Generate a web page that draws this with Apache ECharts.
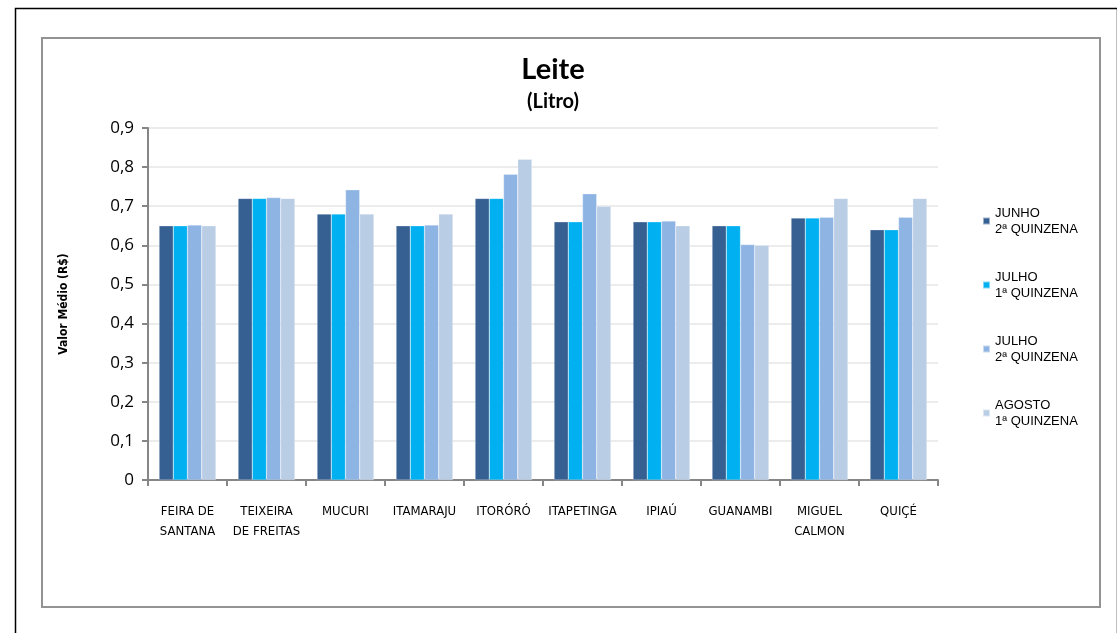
<!DOCTYPE html>
<html>
<head>
<meta charset="utf-8">
<script src="https://cdn.jsdelivr.net/npm/echarts@6/dist/echarts.min.js"></script>
<style>
html,body{margin:0;padding:0;background:#fff;}
#chart{width:1117px;height:633px;}
</style>
</head>
<body>
<div id="chart"></div>
<script>
const categories = ['FEIRA DE\nSANTANA','TEIXEIRA\nDE FREITAS','MUCURI','ITAMARAJU','ITORÓRÓ','ITAPETINGA','IPIAÚ','GUANAMBI','MIGUEL\nCALMON','QUIÇÉ'];
const seriesNames = ['JUNHO\n2ª QUINZENA','JULHO\n1ª QUINZENA','JULHO\n2ª QUINZENA','AGOSTO\n1ª QUINZENA'];
const junho2 = [0.65,0.72,0.68,0.65,0.72,0.66,0.66,0.65,0.67,0.64];
const julho1 = [0.65,0.72,0.68,0.65,0.72,0.66,0.66,0.65,0.67,0.64];
const julho2 = [0.652,0.722,0.742,0.652,0.782,0.732,0.662,0.602,0.672,0.672];
const agosto1 = [0.65,0.72,0.68,0.68,0.82,0.70,0.65,0.60,0.72,0.72];
const colors = ['#376092','#00b0f0','#8eb4e3','#b9cde5'];

const chart = echarts.init(document.getElementById('chart'), null, {renderer:'canvas'});
const narrow = "'Liberation Sans Narrow','DejaVu Sans Condensed',sans-serif";
const data = [junho2, julho1, julho2, agosto1];
chart.setOption({
  animation:false,
  backgroundColor:'#ffffff',
  graphic:[
    {type:'rect', shape:{x:15.5,y:8.5,width:1102,height:640}, style:{fill:'none',stroke:'#000',lineWidth:1.5}},
    {type:'rect', shape:{x:42,y:38,width:1058,height:569}, style:{fill:'none',stroke:'#939393',lineWidth:2}},
    {type:'text', x:553, y:55, style:{text:'Leite', font:"bold 29px Lato,'DejaVu Sans',sans-serif", fill:'#000', textAlign:'center'}},
    {type:'text', x:553, y:92, style:{text:'(Litro)', font:"bold 20px Lato,'DejaVu Sans',sans-serif", fill:'#000', textAlign:'center'}}
  ],
  grid:{left:148, top:128, right:179, bottom:153, containLabel:false},
  legend:{
    orient:'vertical', left:977, top:192, itemGap:16, itemWidth:7, itemHeight:7,
    icon:'rect',
    textStyle:{fontFamily:"'Liberation Sans',Arial,sans-serif", fontSize:13, color:'#000', lineHeight:16, padding:[16,0,0,0]},
    data:seriesNames
  },
  xAxis:{
    type:'category', data:categories,
    axisLine:{lineStyle:{color:'#868686',width:2}},
    axisTick:{show:true, length:6, lineStyle:{color:'#868686',width:2}},
    axisLabel:{fontFamily:narrow, fontSize:13, color:'#000', margin:22, lineHeight:20, interval:0}
  },
  yAxis:{
    type:'value', min:0, max:0.9, interval:0.1,
    name:'Valor Médio (R$)', nameLocation:'middle', nameGap:78, nameRotate:90,
    nameTextStyle:{fontFamily:narrow, fontSize:12, fontWeight:'bold', color:'#000'},
    axisLine:{show:true, lineStyle:{color:'#868686',width:2}},
    axisTick:{show:true, length:6, lineStyle:{color:'#868686',width:2}},
    axisLabel:{fontFamily:"'Open Sans','Liberation Sans',sans-serif", fontSize:17, color:'#000', margin:14,
      formatter:v=> v===0 ? '0' : v.toFixed(1).replace('.',',')},
    splitLine:{show:true, lineStyle:{color:'#ececec',width:2}}
  },
  series: seriesNames.map((n,i)=>({
    name:n, type:'bar', data:data[i], barGap:'0%', barCategoryGap:'28%',
    itemStyle:{color:colors[i], borderColor:'rgba(255,255,255,0.5)', borderWidth:0.5}
  }))
});
</script>
</body>
</html>
